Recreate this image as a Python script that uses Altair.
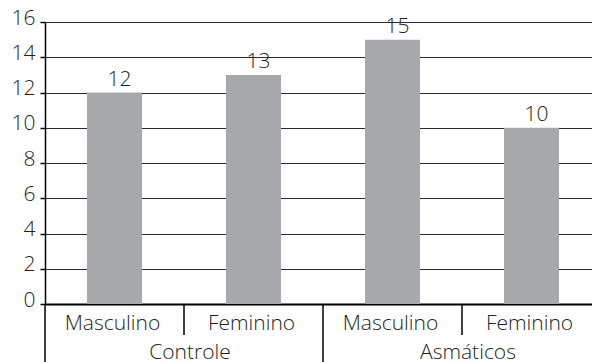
import altair as alt
import pandas as pd

# Number of subjects per group and sex
grupos = ["Controle", "Controle", "Asmáticos", "Asmáticos"]
sexos = ["Masculino", "Feminino", "Masculino", "Feminino"]
valores = [12, 13, 15, 10]
y_ticks = [0, 2, 4, 6, 8, 10, 12, 14, 16]

df = pd.DataFrame({"grupo": grupos, "sexo": sexos, "valor": valores})
df["chave"] = df["grupo"] + " " + df["sexo"]
ordem = list(df["chave"])

FONT = "Open Sans"
INK = "#231f20"
PLOT_W, PLOT_H = 547, 282

x_scale = alt.Scale(domain=ordem, range=[0, 556], paddingInner=0, paddingOuter=0)
y_scale = alt.Scale(domain=[0, 16], nice=False)

x_enc = alt.X("chave:N", scale=x_scale, sort=ordem,
              axis=alt.Axis(labels=False, ticks=False, title=None, domain=True,
                            domainColor="black", domainWidth=2, grid=False))
y_enc = alt.Y("valor:Q", scale=y_scale,
              axis=alt.Axis(values=y_ticks, tickCount=9, title=None, grid=True,
                            gridColor="#2b2b2b", gridWidth=1.2,
                            domainColor="black", domainWidth=1.5,
                            tickColor="black", tickWidth=1.5, tickSize=5,
                            labelFont=FONT, labelFontSize=21, labelColor=INK,
                            labelFontWeight=300, labelOverlap=False,
                            labelPadding=5, labelOffset=-4))

base = alt.Chart(df)

barras = base.mark_bar(color="#a7a8ab", size=55).encode(x=x_enc, y=y_enc)

rotulos = base.mark_text(font=FONT, fontSize=21, fontWeight=300, color=INK,
                         baseline="alphabetic", dx=5, dy=-7).encode(
    x=x_enc, y=y_enc, text="valor:Q",
)

# Sex labels under each bar
sexo_txt = base.mark_text(font=FONT, fontSize=21, fontWeight=300, color=INK,
                          baseline="alphabetic", dx=-2).encode(
    x=x_enc,
    y=alt.value(PLOT_H + 26),
    text="sexo:N",
)

# Group labels centred under each pair of bars
grupo_txt = base.transform_filter(alt.datum.sexo == "Feminino").mark_text(
    font=FONT, fontSize=21, fontWeight=300, color=INK, baseline="alphabetic", dx=6
).encode(
    x=alt.X("chave:N", scale=x_scale, sort=ordem, bandPosition=0),
    y=alt.value(PLOT_H + 55),
    text="grupo:N",
)

# Short dividers between sexes, long dividers between groups
div_curto = base.transform_filter(alt.datum.sexo == "Feminino").mark_rule(
    color="black", strokeWidth=1.5
).encode(
    x=alt.X("chave:N", scale=x_scale, sort=ordem, bandPosition=0),
    y=alt.value(PLOT_H),
    y2=alt.value(PLOT_H + 31),
)

div_longo = base.transform_filter(alt.datum.sexo == "Masculino").mark_rule(
    color="black", strokeWidth=1.5
).encode(
    x=alt.X("chave:N", scale=x_scale, sort=ordem, bandPosition=0),
    y=alt.value(PLOT_H),
    y2=alt.value(PLOT_H + 60),
)

chart = alt.layer(barras, rotulos, sexo_txt, grupo_txt, div_curto, div_longo).properties(
    width=PLOT_W,
    height=PLOT_H,
    autosize=alt.AutoSizeParams(type="none"),
    padding={"left": 45, "top": 22, "right": 0, "bottom": 58},
    background="white",
).configure_view(stroke=None)

chart.save("out.html", embed_options={"renderer": "svg", "actions": False})
